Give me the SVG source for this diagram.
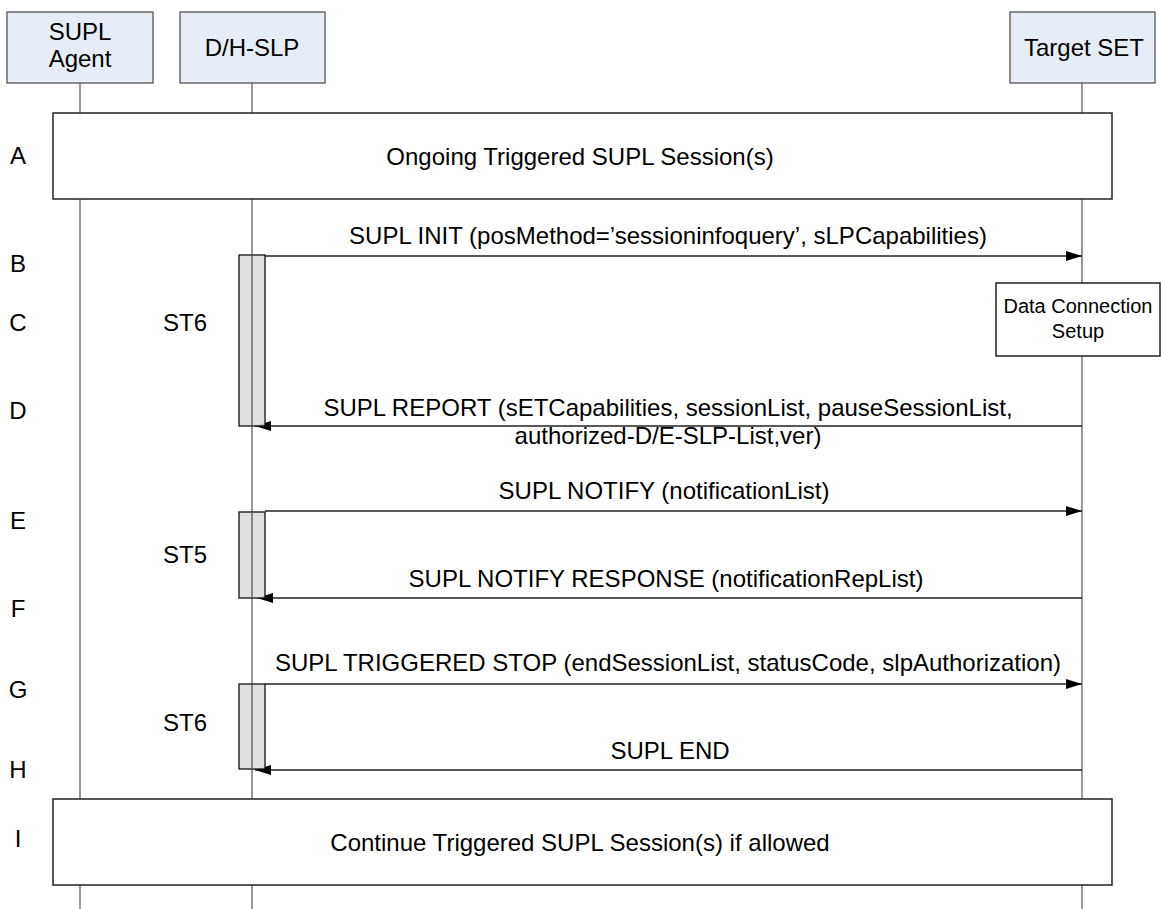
<svg xmlns="http://www.w3.org/2000/svg" width="1161" height="909" viewBox="0 0 1161 909">
<style>
text{font-family:"Liberation Sans",Arial,sans-serif;font-size:24px;fill:#000;text-anchor:middle}
.hdr{fill:#E7EDF6;stroke:#555;stroke-width:1.3}
.life{stroke:#555;stroke-width:1.2;fill:none}
.box{fill:#fff;stroke:#222;stroke-width:1.5}
.timer{fill:#DADADA;stroke:#111;stroke-width:1.3}
.msg{stroke:#222;stroke-width:1.3;fill:none}
.dc{font-size:20px}
</style>
<defs>
<marker id="ah" markerWidth="16" markerHeight="10" refX="16" refY="5" orient="auto" markerUnits="userSpaceOnUse">
<path d="M0,0 L16,5 L0,10 Z" fill="#000"/>
</marker>
</defs>
<rect width="1161" height="909" fill="#fff"/>
<g id="lifelines">
<line class="life" x1="80" y1="83" x2="80" y2="909"/>
<line class="life" x1="252" y1="83" x2="252" y2="909"/>
<line class="life" x1="1082" y1="83" x2="1082" y2="909"/>
</g>
<g id="supl-agent">
<rect class="hdr" x="7" y="12" width="146" height="71"/>
<text x="80" y="40">SUPL</text>
<text x="80" y="67">Agent</text>
</g>
<g id="dh-slp">
<rect class="hdr" x="180" y="12" width="145" height="71"/>
<text x="252" y="56">D/H-SLP</text>
</g>
<g id="target-set">
<rect class="hdr" x="1010" y="12" width="145" height="71"/>
<text x="1084" y="56">Target SET</text>
</g>
<g id="step-labels">
<text x="18" y="164">A</text>
<text x="18" y="272">B</text>
<text x="18" y="331">C</text>
<text x="18" y="419">D</text>
<text x="18" y="529">E</text>
<text x="18" y="617">F</text>
<text x="18" y="698">G</text>
<text x="18" y="778">H</text>
<text x="18" y="847">I</text>
</g>
<g id="box-a">
<rect class="box" x="53" y="113" width="1059" height="86"/>
<text x="580" y="165">Ongoing Triggered SUPL Session(s)</text>
</g>
<g id="data-connection">
<rect class="box" x="996" y="283" width="164" height="73"/>
<text class="dc" x="1078" y="313">Data Connection</text>
<text class="dc" x="1078" y="338">Setup</text>
</g>
<g id="box-i">
<rect class="box" x="53" y="799" width="1059" height="86"/>
<text x="580" y="851">Continue Triggered SUPL Session(s) if allowed</text>
</g>
<g id="connectors">
<line class="msg" x1="265" y1="256" x2="1082" y2="256" marker-end="url(#ah)"/>
<line class="msg" x1="1082" y1="426" x2="255" y2="426" marker-end="url(#ah)"/>
<line class="msg" x1="265" y1="511" x2="1082" y2="511" marker-end="url(#ah)"/>
<line class="msg" x1="1082" y1="598" x2="257" y2="598" marker-end="url(#ah)"/>
<line class="msg" x1="265" y1="684" x2="1082" y2="684" marker-end="url(#ah)"/>
<line class="msg" x1="1082" y1="770" x2="255" y2="770" marker-end="url(#ah)"/>
</g>
<g id="timers">
<rect class="timer" x="239" y="255" width="26" height="171" fill-opacity="0.85"/>
<line class="life" x1="252" y1="255" x2="252" y2="426"/>
<rect class="timer" x="239" y="512" width="26" height="86" fill-opacity="0.85"/>
<line class="life" x1="252" y1="512" x2="252" y2="598"/>
<rect class="timer" x="239" y="684" width="26" height="85" fill-opacity="0.85"/>
<line class="life" x1="252" y1="684" x2="252" y2="769"/>
<text x="185" y="331">ST6</text>
<text x="185" y="563">ST5</text>
<text x="185" y="731">ST6</text>
</g>
<g id="message-labels">
<text x="668" y="244">SUPL INIT (posMethod=’sessioninfoquery’, sLPCapabilities)</text>
<text x="668" y="416">SUPL REPORT (sETCapabilities, sessionList, pauseSessionList,</text>
<text x="668" y="444">authorized-D/E-SLP-List,ver)</text>
<text x="664" y="499">SUPL NOTIFY (notificationList)</text>
<text x="666" y="587">SUPL NOTIFY RESPONSE (notificationRepList)</text>
<text x="668" y="671">SUPL TRIGGERED STOP (endSessionList, statusCode, slpAuthorization)</text>
<text x="670" y="759">SUPL END</text>
</g>
</svg>
